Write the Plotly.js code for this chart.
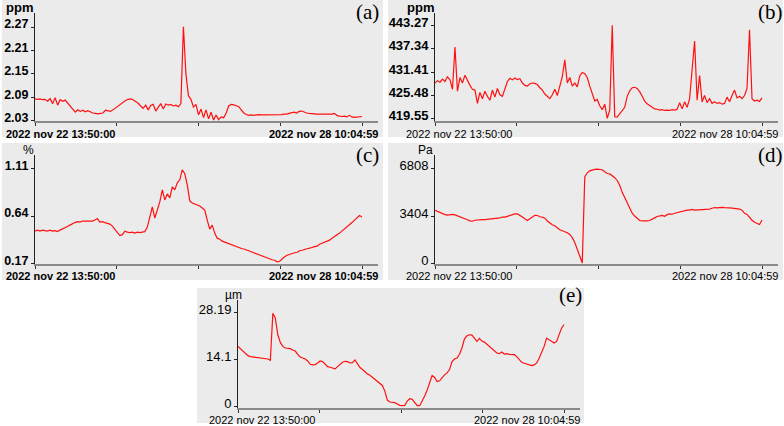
<!DOCTYPE html>
<html>
<head>
<meta charset="utf-8">
<script src="https://cdn.plot.ly/plotly-3.0.1.min.js"></script>
<style>html,body{margin:0;padding:0;background:#fff;}#chart{width:784px;height:426px;}</style>
</head>
<body>
<div id="chart"></div>
<script>
// ---- data ----
const startLabel = "2022 nov 22 13:50:00";
const endLabel = "2022 nov 28 10:04:59";
const spanHours = 140.25;            // nov 22 13:50:00 -> nov 28 10:04:59
const xTickHours = [0, 35.0625, 70.125, 105.1875, 140.25];

const panelLetters = ["(a)", "(b)", "(c)", "(d)", "(e)"];
const units = ["ppm", "ppm", "%", "Pa", "µm"];

const ticksA = [2.03, 2.09, 2.15, 2.21, 2.27];
const ticksB = [419.55, 425.48, 431.41, 437.34, 443.27];
const ticksC = [0.17, 0.64, 1.11];
const ticksD = [0, 3404, 6808];
const ticksE = [0, 14.1, 28.19];

const seriesA = [2.086,2.085,2.086,2.084,2.085,2.080,2.087,2.074,2.089,2.070,2.084,2.080,2.083,2.075,2.068,2.060,2.052,2.058,2.054,2.057,
2.053,2.056,2.052,2.050,2.049,2.048,2.049,2.050,2.057,2.055,2.054,2.058,2.063,2.068,2.073,2.078,2.082,2.085,2.086,2.084,
2.080,2.075,2.068,2.062,2.070,2.058,2.069,2.072,2.055,2.066,2.074,2.060,2.073,2.070,2.072,2.068,2.070,2.066,2.074,2.271,
2.150,2.094,2.085,2.065,2.072,2.045,2.060,2.038,2.058,2.035,2.052,2.032,2.045,2.033,2.040,2.038,2.050,2.068,2.072,2.071,
2.069,2.066,2.058,2.050,2.046,2.044,2.045,2.044,2.045,2.046,2.045,2.045,2.046,2.045,2.045,2.046,2.045,2.046,2.046,2.047,
2.047,2.049,2.050,2.052,2.050,2.054,2.055,2.052,2.050,2.049,2.048,2.048,2.047,2.047,2.047,2.046,2.047,2.046,2.047,2.049,
2.044,2.042,2.041,2.042,2.040,2.044,2.040,2.039,2.040,2.040,2.041];

const seriesB = [428.6,429.2,428.8,429.6,429.0,430.2,429.4,427.0,437.8,426.5,430.0,428.6,430.6,429.2,428.0,427.0,426.8,423.4,426.2,424.6,
426.5,425.2,424.2,426.8,425.0,427.2,425.6,425.2,427.2,429.0,429.8,429.4,429.9,429.5,429.7,428.6,428.0,427.8,428.4,428.6,
428.5,428.2,427.4,426.8,425.8,425.2,424.6,425.6,427.0,425.4,427.8,430.2,434.5,428.6,430.0,427.8,428.6,427.6,430.4,431.3,
431.0,430.0,427.8,425.6,424.0,424.4,422.8,421.8,423.2,419.6,421.6,443.3,420.0,419.9,420.8,421.8,422.4,425.2,426.6,427.4,
427.5,427.2,426.4,425.2,424.0,423.3,422.8,422.5,422.0,421.9,421.7,421.8,421.6,421.7,421.6,421.8,421.7,421.9,423.6,422.0,
423.8,422.4,424.6,432.0,439.3,424.2,430.5,423.8,425.4,423.6,424.6,423.4,423.8,423.4,423.6,423.2,423.4,425.0,423.8,425.4,
426.8,424.8,425.2,424.6,425.4,427.2,442.2,424.6,424.0,424.2,423.9,424.8];

const seriesC = [0.49,0.50,0.49,0.50,0.495,0.49,0.50,0.49,0.495,0.485,0.50,0.51,0.525,0.535,0.55,0.565,0.575,0.585,0.58,0.59,
0.59,0.585,0.59,0.59,0.60,0.615,0.58,0.585,0.575,0.57,0.56,0.54,0.51,0.48,0.445,0.455,0.49,0.48,0.475,0.48,
0.47,0.48,0.475,0.48,0.485,0.53,0.62,0.73,0.62,0.70,0.78,0.90,0.80,0.86,0.82,0.93,0.90,0.97,1.00,1.10,
1.06,0.95,0.79,0.77,0.76,0.75,0.74,0.72,0.70,0.60,0.51,0.55,0.47,0.42,0.41,0.39,0.38,0.37,0.36,0.355,
0.34,0.335,0.325,0.315,0.31,0.30,0.29,0.285,0.27,0.265,0.255,0.245,0.235,0.225,0.215,0.205,0.20,0.185,0.19,0.215,
0.235,0.25,0.26,0.27,0.275,0.28,0.295,0.30,0.31,0.315,0.32,0.33,0.335,0.34,0.36,0.37,0.38,0.39,0.40,0.42,
0.44,0.455,0.47,0.49,0.51,0.53,0.55,0.575,0.60,0.62,0.645,0.63];

const seriesD = [3810,3720,3620,3540,3500,3470,3510,3520,3480,3420,3350,3280,3200,3140,3060,3030,3100,3130,3140,3150,
3140,3160,3150,3170,3200,3220,3270,3330,3320,3380,3450,3520,3560,3550,3460,3330,3200,3080,3200,3330,
3450,3440,3350,3330,3250,3050,2900,2780,2700,2550,2420,2350,2280,2200,2080,1850,1500,1050,600,40,
6200,6500,6640,6700,6740,6760,6730,6720,6580,6450,6420,6300,6150,5950,5600,5100,4700,4300,3900,3600,
3400,3200,3080,3050,3030,3060,3080,3150,3270,3370,3400,3440,3380,3500,3550,3530,3600,3650,3700,3760,
3810,3830,3820,3870,3830,3840,3880,3850,3870,3920,3900,3960,4010,3990,4030,4020,4000,4010,3990,3970,
3960,3940,3900,3820,3600,3520,3300,3100,2950,2880,2790,3120];

const seriesE = [18.0,17.3,16.6,15.8,15.2,14.9,14.8,14.8,14.7,14.7,14.5,14.4,14.2,13.8,28.0,26.5,21.5,19.2,18.0,17.5,
17.4,17.3,16.9,16.6,15.6,14.8,14.5,14.2,13.6,12.6,12.4,12.5,13.0,13.6,13.4,12.5,11.9,11.7,11.5,11.2,
11.9,12.6,13.2,13.5,13.4,13.0,13.1,13.9,12.8,11.6,11.0,10.3,9.7,9.3,8.7,7.9,7.3,6.8,6.2,4.5,
1.8,1.2,1.1,1.0,0.6,0.2,0.1,0.2,1.5,2.2,2.0,1.0,0.1,0.1,1.5,3.0,4.8,7.2,9.2,8.6,
7.4,7.6,8.6,9.4,10.0,11.0,13.4,14.2,14.5,15.6,17.6,20.3,21.2,21.5,21.4,20.3,19.5,20.4,19.6,19.3,
18.6,18.0,17.4,16.6,16.0,15.8,16.3,15.7,15.8,15.6,15.6,15.5,14.9,14.0,13.2,12.9,12.7,12.3,12.2,12.4,
13.0,14.4,16.0,18.0,20.5,20.0,19.5,19.0,19.5,21.5,23.5,24.6];

// ---- layout geometry (pixels) ----
const W = 784, H = 426;
const px = v => v / W;
const py = v => 1 - v / H;

const panels = [
  {s: seriesA, t: ticksA, yr: [2.0295, 2.306], x: [35, 378], y: [13, 121], bg: [2, 0, 383, 137], tickBold: true, tickSize: 12.5, dateBold: true,
   unit: [19, 7, true], letter: [367, 12], dy: 127},
  {s: seriesB, t: ticksB, yr: [418.91, 446.46], x: [435, 778], y: [13, 121], bg: [388, 0, 783, 137], tickBold: true, tickSize: 13, dateBold: false,
   unit: [420, 7, true], letter: [770, 12], dy: 127},
  {s: seriesC, t: ticksC, yr: [0.163, 1.247], x: [35, 378], y: [155, 264], bg: [2, 143, 383, 280], tickBold: true, tickSize: 12.5, dateBold: true,
   unit: [28, 150, false], letter: [367, 155], dy: 269},
  {s: seriesD, t: ticksD, yr: [-36, 7775], x: [435, 778], y: [155, 264], bg: [388, 143, 783, 280], tickBold: false, tickSize: 13, dateBold: false,
   unit: [425, 150, false], letter: [770, 155], dy: 269},
  {s: seriesE, t: ticksE, yr: [-0.51, 32.0], x: [238, 580], y: [300, 407.7], bg: [197, 288, 584, 423], tickBold: false, tickSize: 13, dateBold: false,
   unit: [233, 295, false], letter: [570, 295], dy: 413}
];

const xMax = spanHours * (343 / 327);
const traces = [], shapes = [], annotations = [];
const layout = {
  width: W, height: H, autosize: false,
  margin: {l: 0, r: 0, t: 0, b: 0, pad: 0},
  paper_bgcolor: '#ffffff', plot_bgcolor: 'rgba(0,0,0,0)',
  showlegend: false,
  font: {family: 'Liberation Sans, Arial, sans-serif', color: '#000'}
};

panels.forEach((p, k) => {
  const n = p.s.length;
  const xs = p.s.map((_, i) => i * spanHours / (n - 1));
  const sx = k === 0 ? '' : String(k + 1);
  traces.push({
    x: xs, y: p.s, type: 'scatter', mode: 'lines',
    xaxis: 'x' + sx, yaxis: 'y' + sx,
    line: {color: '#ff1010', width: 1.2}, hoverinfo: 'skip'
  });
  layout['xaxis' + sx] = {
    domain: [px(p.x[0]), px(p.x[1])], anchor: 'y' + sx,
    range: [0, xMax], tickmode: 'array', tickvals: xTickHours, showticklabels: false,
    ticks: 'outside', ticklen: 3, tickwidth: 1, tickcolor: '#333',
    showline: true, linecolor: '#8a8a8a', linewidth: 2,
    showgrid: false, zeroline: false, fixedrange: true
  };
  layout['yaxis' + sx] = {
    domain: [py(p.y[1]), py(p.y[0])], anchor: 'x' + sx,
    range: p.yr, tickmode: 'array', tickvals: p.t, ticktext: p.t.map(String),
    ticks: 'outside', ticklen: 3, tickwidth: 1, tickcolor: '#222',
    ticklabelshift: -3,
    tickfont: {family: 'Liberation Sans, Arial, sans-serif', size: p.tickSize, color: '#000', weight: p.tickBold ? 'bold' : 'normal'},
    showline: true, linecolor: '#222', linewidth: 1,
    showgrid: false, zeroline: false, fixedrange: true
  };
  shapes.push({
    type: 'rect', xref: 'paper', yref: 'paper', layer: 'below',
    x0: px(p.bg[0]), x1: px(p.bg[2]), y0: py(p.bg[3]), y1: py(p.bg[1]),
    fillcolor: '#ebebeb', line: {width: 0}
  });
  // unit label
  annotations.push({
    xref: 'paper', yref: 'paper', x: px(p.unit[0]), y: py(p.unit[1]),
    xanchor: 'center', yanchor: 'middle', showarrow: false, text: units[k],
    font: {family: 'Liberation Sans, Arial, sans-serif', size: p.unit[2] ? 13 : 12, color: '#000', weight: p.unit[2] ? 'bold' : 'normal'}
  });
  // panel letter
  annotations.push({
    xref: 'paper', yref: 'paper', x: px(p.letter[0]), y: py(p.letter[1]),
    xanchor: 'center', yanchor: 'middle', showarrow: false, text: panelLetters[k],
    font: {family: 'Liberation Serif, Times New Roman, serif', size: 21, color: '#000'}
  });
  // date labels (top edge just below the tick labels)
  const dfont = {family: 'Liberation Sans, Arial, sans-serif', size: 11, color: '#000', weight: p.dateBold ? 'bold' : 'normal'};
  annotations.push({
    xref: 'paper', yref: 'paper', x: px(p.x[0] - 30), y: py(p.dy),
    xanchor: 'left', yanchor: 'top', showarrow: false, text: startLabel, font: dfont, borderpad: 0
  });
  annotations.push({
    xref: 'paper', yref: 'paper', x: px(p.x[1] + 1), y: py(p.dy),
    xanchor: 'right', yanchor: 'top', showarrow: false, text: endLabel, font: dfont, borderpad: 0
  });
});

layout.shapes = shapes;
layout.annotations = annotations;

Plotly.newPlot('chart', traces, layout, {displayModeBar: false, staticPlot: true});
</script>
</body>
</html>
